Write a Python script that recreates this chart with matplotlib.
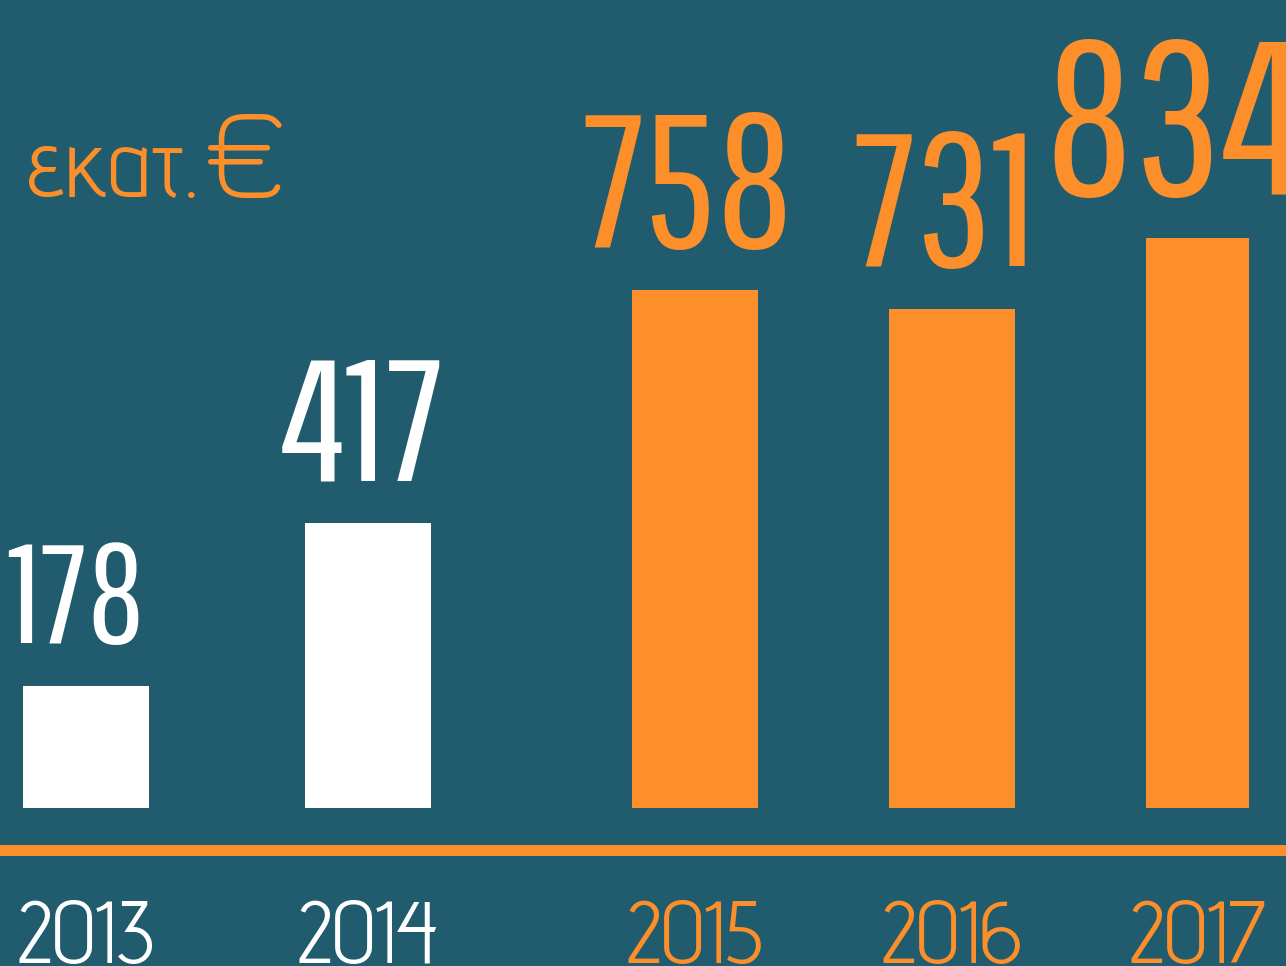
import matplotlib
matplotlib.use('Agg')
import matplotlib.pyplot as plt

# data
years = ['2013', '2014', '2015', '2016', '2017']
values = [178, 417, 758, 731, 834]
unit_label = 'εκατ.'

# layout / style
slots = [0, 1, 2.16, 3.07, 3.94]
widths = [0.447, 0.447, 0.447, 0.447, 0.365]
label_sizes = [101, 124, 136, 136, 156]
label_shift = [-7, -4, -5, -5, -17]   # points, horizontal nudge of the value labels
bg = '#215b6e'
orange = '#fd8f2b'
colors = ['white', 'white', orange, orange, orange]

W, H = 1286, 966
px_per_unit = 0.683
zero_px = 158          # distance of the bar bottoms from the lower edge

fig = plt.figure(figsize=(W / 100, H / 100), dpi=100, facecolor=bg)
ax = fig.add_axes([0, 0, 1, 1], facecolor=bg)
ax.set_xlim(-86 / 282, (W - 86) / 282)
ax.set_ylim(-zero_px / px_per_unit, (H - zero_px) / px_per_unit)

ax.bar(slots, values, width=widths, color=colors, edgecolor='none')

for x, v, c, fs, dx in zip(slots, values, colors, label_sizes, label_shift):
    ax.annotate(str(v), (x, v), xytext=(dx, 31), textcoords='offset points',
                ha='center', va='baseline', color=c, fontsize=fs, family='Pathway Gothic One')

# the orange base line is the x axis
for s in ['top', 'left', 'right']:
    ax.spines[s].set_visible(False)
ax.spines['bottom'].set_position(('data', -42 / px_per_unit))
ax.spines['bottom'].set_color(orange)
ax.spines['bottom'].set_linewidth(7.9)
ax.set_yticks([])
ax.set_xticks(slots, years)
ax.tick_params(axis='x', length=0, pad=37, labelsize=63)
for lbl, c in zip(ax.get_xticklabels(), colors):
    lbl.set_color(c)
    lbl.set_fontfamily('Advent Pro')

fig.text(27 / W, 1 - 197 / H, unit_label, color=orange, fontsize=70,
         family='Advent Pro', ha='left', va='baseline')
fig.text(201 / W, 1 - 198 / H, '€', color=orange, fontsize=95,
         family='Jura', ha='left', va='baseline')

fig.savefig('out.png', facecolor=bg)
